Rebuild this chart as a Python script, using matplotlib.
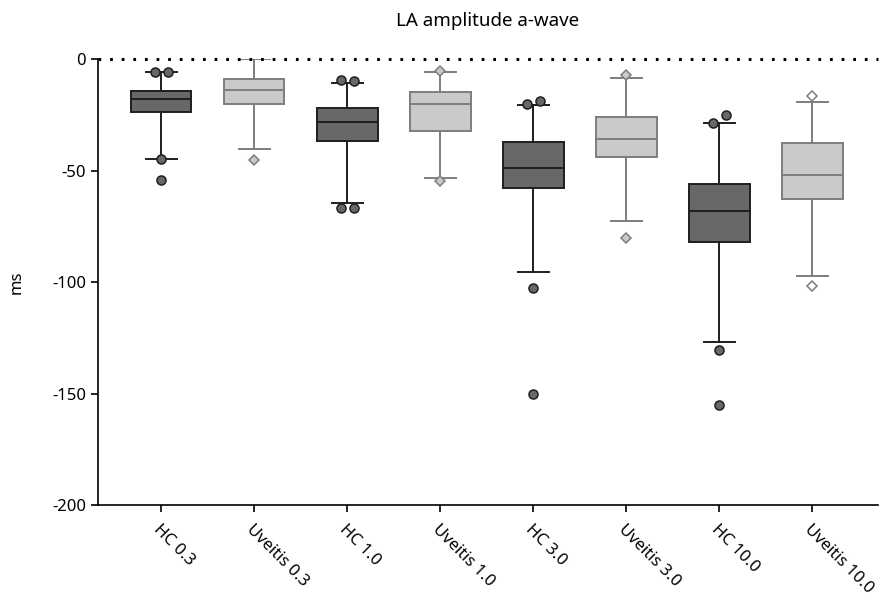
import numpy as np
import matplotlib
matplotlib.use('Agg')
import matplotlib.pyplot as plt

plt.rcParams['font.family'] = ['Noto Sans', 'DejaVu Sans']
plt.rcParams['axes.unicode_minus'] = False

#Box summaries (ms) per group
groups = ['HC 0.3', 'Uveitis 0.3', 'HC 1.0', 'Uveitis 1.0',
          'HC 3.0', 'Uveitis 3.0', 'HC 10.0', 'Uveitis 10.0']
medians = [-17.9, -13.7, -27.9, -20.1, -48.8, -35.5, -67.9, -51.7]
q1 = [-23.6, -20.1, -36.4, -32.2, -57.5, -43.6, -82.1, -62.6]
q3 = [-14.2, -8.9, -21.9, -14.7, -37.2, -25.6, -56.0, -37.7]
whis_low = [-44.7, -40.4, -64.4, -53.0, -95.3, -72.3, -126.7, -97.2]
whis_high = [-5.8, 0.0, -10.5, -5.7, -20.6, -8.4, -28.6, -19.2]
outliers = [
    [-5.8, -5.8, -44.7, -54.3],
    [-45.3],
    [-9.1, -9.7, -66.6, -66.6],
    [-5.2, -54.4],
    [-19.9, -18.8, -102.5, -150.1],
    [-7.0, -80.3],
    [-28.3, -24.9, -130.3, -155.2],
    [-16.5, -101.9],
]

hc_fill, hc_edge = '#686868', '#1e1e1e'
uv_fill, uv_edge = '#cacaca', '#7d7d7d'

fig = plt.figure(figsize=(8.93, 6.07), dpi=100)
ax = fig.add_axes([0.1097, 0.168, 0.873, 0.734])

positions = np.arange(1, len(groups) + 1)

for i, name in enumerate(groups):
    is_hc = name.startswith('HC')
    fill = hc_fill if is_hc else uv_fill
    edge = hc_edge if is_hc else uv_edge
    stats = [{'med': medians[i], 'q1': q1[i], 'q3': q3[i],
              'whislo': whis_low[i], 'whishi': whis_high[i], 'fliers': []}]
    ax.bxp(stats, positions=[positions[i]], widths=0.65, capwidths=0.33,
           patch_artist=True, showfliers=False, manage_ticks=False,
           boxprops=dict(facecolor=fill, edgecolor=edge, linewidth=1.4),
           medianprops=dict(color=edge, linewidth=1.4),
           whiskerprops=dict(color=edge, linewidth=1.4),
           capprops=dict(color=edge, linewidth=1.4))

    #spread outliers sitting at almost the same value side by side
    vals = outliers[i]
    offs = np.zeros(len(vals))
    for a in range(len(vals)):
        for b in range(a + 1, len(vals)):
            if abs(vals[a] - vals[b]) < 4 and offs[a] == 0 and offs[b] == 0:
                offs[a], offs[b] = -0.068, 0.068
    if is_hc:
        ax.plot(positions[i] + offs, vals, 'o', ms=6.5, mfc=hc_fill,
                mec=hc_edge, mew=1.1, ls='none', zorder=4)
    else:
        mfc = 'white' if name.endswith('10.0') else uv_fill
        ax.plot(positions[i] + offs, vals, 'D', ms=5, mfc=mfc,
                mec=uv_edge, mew=1.1, ls='none', zorder=4)

#zero reference line
ax.axhline(0, color='black', lw=2.2, linestyle=(0, (0.9, 2.9)),
           clip_on=False, zorder=5)

ax.set_xlim(0.32, 8.7)
ax.set_ylim(-200, 0)
ax.set_yticks([0, -50, -100, -150, -200])
ax.set_xticks(positions)
ax.set_xticklabels(groups, rotation=-45, ha='left', rotation_mode='anchor',
                   fontsize=12)
ax.tick_params(axis='y', labelsize=12, length=5, width=1.2)
ax.tick_params(axis='x', length=5, width=1.2, pad=7)
ax.spines['top'].set_visible(False)
ax.spines['right'].set_visible(False)
ax.spines['left'].set_linewidth(1.2)
ax.spines['bottom'].set_linewidth(1.2)
ax.set_ylabel('ms', fontsize=12, labelpad=20)
ax.set_title('LA amplitude a-wave', fontsize=13.5, pad=24)

fig.savefig('out.png', dpi=100)
